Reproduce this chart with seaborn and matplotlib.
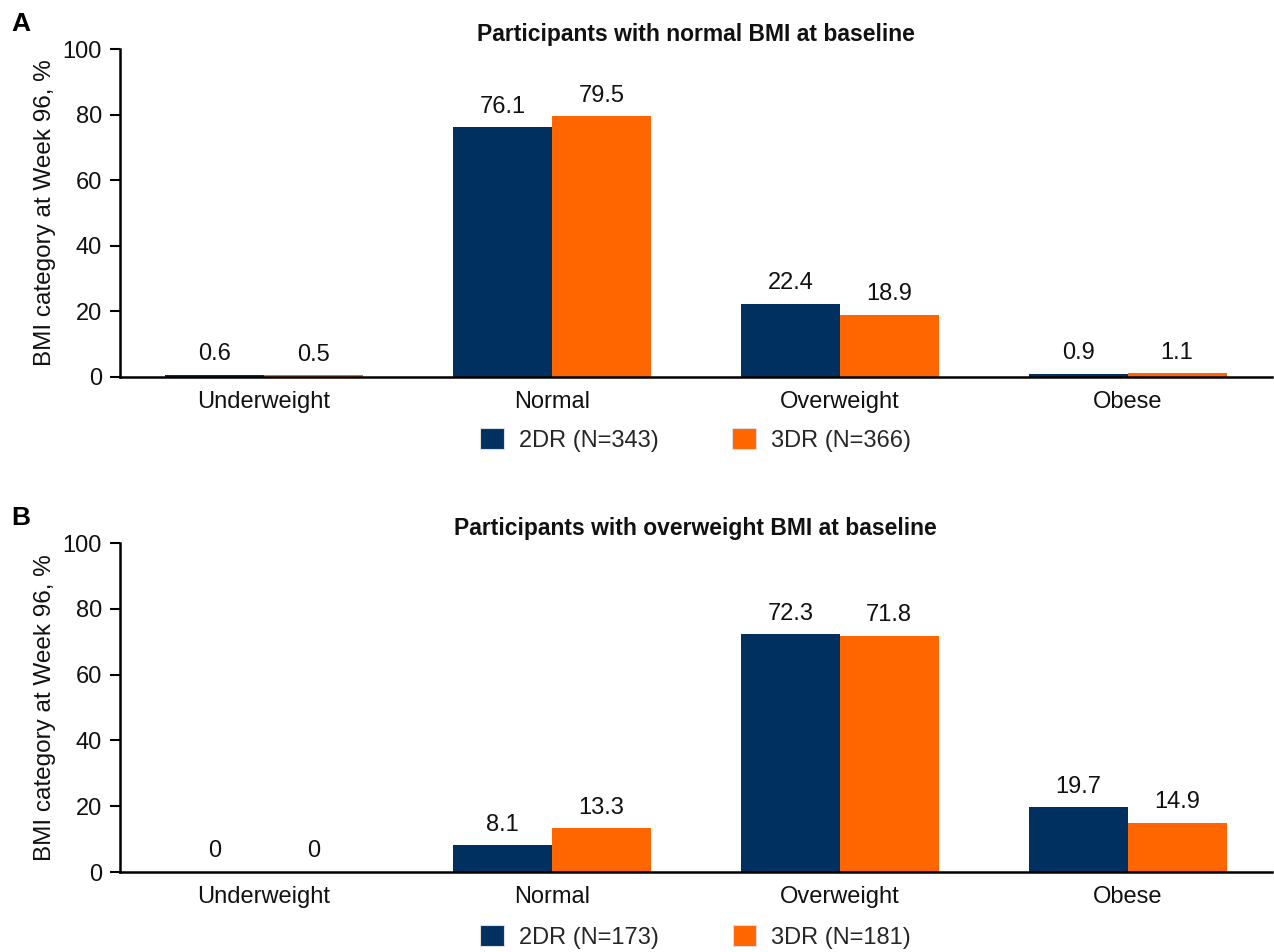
import matplotlib
matplotlib.use("Agg")
import matplotlib.pyplot as plt
import seaborn as sns
import pandas as pd
from matplotlib.patches import Patch

categories = ["Underweight", "Normal", "Overweight", "Obese"]
groups_a = ["2DR (N=343)", "3DR (N=366)"]
groups_b = ["2DR (N=173)", "3DR (N=181)"]
a_2dr = [0.6, 76.1, 22.4, 0.9]
a_3dr = [0.5, 79.5, 18.9, 1.1]
b_2dr = [0, 8.1, 72.3, 19.7]
b_3dr = [0, 13.3, 71.8, 14.9]
title_a = "Participants with normal BMI at baseline"
title_b = "Participants with overweight BMI at baseline"
ylabel = "BMI category at Week 96, %"
yticks = [0, 20, 40, 60, 80, 100]

colors = ["#00305F", "#FF6600"]

sns.set_theme(style="white")
plt.rcParams["font.family"] = ["Liberation Sans", "DejaVu Sans"]

fig = plt.figure(figsize=(12.74, 9.52), dpi=100)
ax_a = fig.add_axes([0.0942, 0.604, 0.904, 0.3445])
ax_b = fig.add_axes([0.0942, 0.084, 0.904, 0.3455])


def fmt(v):
    return "0" if v == 0 else f"{v:.1f}"


def panel(ax, groups, s1, s2, title, letter, legend_y):
    df = pd.DataFrame({
        "category": categories * 2,
        "value": s1 + s2,
        "group": [groups[0]] * 4 + [groups[1]] * 4,
    })
    sns.barplot(data=df, x="category", y="value", hue="group",
                order=categories, hue_order=groups,
                palette=colors, width=0.686, saturation=1,
                edgecolor="none", linewidth=0, legend=False, ax=ax)
    for cont, vals in zip(ax.containers, [s1, s2]):
        ax.bar_label(cont, labels=[fmt(v) for v in vals], padding=7,
                     fontsize=17, color="#111111")
    ax.set_xlim(-0.5, 3.5)
    ax.set_ylim(0, 100)
    ax.set_yticks(yticks)
    ax.set_xlabel("")
    ax.set_ylabel(ylabel, fontsize=17.5, color="#111111", labelpad=5)
    ax.tick_params(axis="y", which="both", left=True, length=7, width=1.5,
                   direction="out", labelsize=17, labelcolor="#111111",
                   color="black", pad=6)
    ax.tick_params(axis="x", bottom=False, labelsize=17,
                   labelcolor="#111111", pad=4)
    for side in ["top", "right"]:
        ax.spines[side].set_visible(False)
    for side in ["left", "bottom"]:
        ax.spines[side].set_color("black")
        ax.spines[side].set_linewidth(1.8)
    ax.set_title(title, fontsize=16.5, fontweight="bold", pad=6,
                 color="#111111")
    pos = ax.get_position()
    fig.text(0.009, pos.y1 + 0.026, letter, fontsize=19, fontweight="bold",
             ha="left", va="center", color="black")
    handles = [Patch(facecolor=c, edgecolor="#dddddd", linewidth=0.8)
               for c in colors]
    fig.legend(handles, groups, loc="center",
               bbox_to_anchor=(pos.x0 + pos.width / 2, legend_y),
               ncol=2, frameon=False, fontsize=17,
               handlelength=1.0, handleheight=1.0, handletextpad=0.65,
               columnspacing=3.1)


panel(ax_a, groups_a, a_2dr, a_3dr, title_a, "A", 1 - 440 / 952)
panel(ax_b, groups_b, b_2dr, b_3dr, title_b, "B", 1 - 937 / 952)

fig.savefig("out.png", dpi=100)
